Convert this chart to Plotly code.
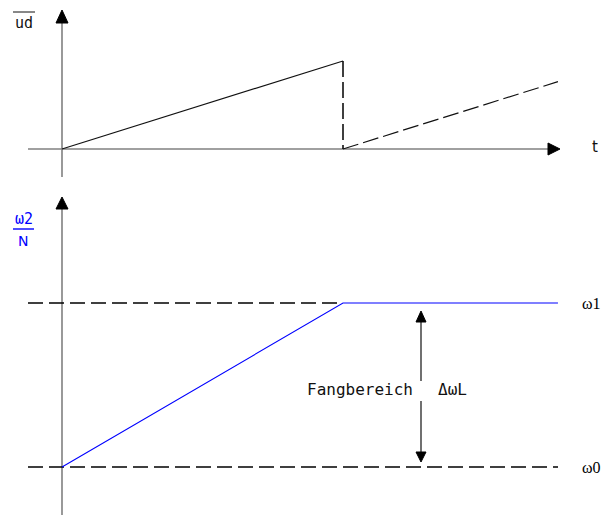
import plotly.graph_objects as go

# ---- data -------------------------------------------------------------
# upper panel: averaged detector voltage (sawtooth), t normalised to the first ramp
t_ramp = [0.0, 1.0]
ud_ramp = [0.0, 1.0]
t_reset = [1.0, 1.0]
ud_reset = [1.0, 0.0]
t_next = [1.0, 1.765]
ud_next = [0.0, 0.765]

# lower panel: VCO frequency omega2/N, normalised so that omega0 = 0, omega1 = 1
t_omega = [0.0, 1.0, 1.765]
omega = [0.0, 1.0, 1.0]
omega_levels = [0.0, 1.0]
omega_labels = ["ω0", "ω1"]

# ---- geometry helpers --------------------------------------------------
W, H = 604, 516
X0_PX, X_SCALE = 62, 281.0          # t = 0 at x pixel 62, one unit = 281 px
TOP_SPLIT = 190                      # pixel row separating the two panels
UD0_PX, UD_SCALE = 149, 88.0
OM0_PX, OM_SCALE = 467, 164.0

x_range = [-X0_PX / X_SCALE, (W - X0_PX) / X_SCALE]
y_top_range = [-(TOP_SPLIT - UD0_PX) / UD_SCALE, UD0_PX / UD_SCALE]
y_bot_range = [-(H - OM0_PX) / OM_SCALE, (OM0_PX - TOP_SPLIT) / OM_SCALE]
split = 1 - TOP_SPLIT / H

def tx(px):
    return (px - X0_PX) / X_SCALE

def ud(py):
    return (UD0_PX - py) / UD_SCALE

def om(py):
    return (OM0_PX - py) / OM_SCALE

AXIS_COL = "#808080"
INK = "#111111"
BLUE = "#0000ff"

fig = go.Figure()

def seg(x, y, yaxis, color=INK, width=1.2, dash=None):
    fig.add_trace(go.Scatter(x=x, y=y, xaxis="x", yaxis=yaxis, mode="lines",
                             line=dict(color=color, width=width, dash=dash),
                             hoverinfo="skip", showlegend=False))

def head(xs, ys, yaxis):
    fig.add_trace(go.Scatter(x=xs + [xs[0]], y=ys + [ys[0]], xaxis="x", yaxis=yaxis,
                             mode="lines", fill="toself", fillcolor="#000000",
                             line=dict(color="#000000", width=1),
                             hoverinfo="skip", showlegend=False))

# ---- upper panel -------------------------------------------------------
# coordinate axes with arrow heads
seg([tx(28), tx(549)], [0, 0], "y", color=AXIS_COL, width=1.6)
head([tx(548), tx(560), tx(548)], [ud(143), ud(149), ud(155)], "y")
seg([0, 0], [ud(177), ud(22)], "y", color=AXIS_COL, width=1.6)
head([tx(56), tx(62), tx(68)], [ud(23), ud(10), ud(23)], "y")

seg(t_ramp, ud_ramp, "y", color=INK, width=1.2)
seg(t_reset, ud_reset, "y", color="#000000", width=1.5, dash="16px,5px")
seg(t_next, ud_next, "y", color=INK, width=1.2, dash="16px,5px")

# ---- lower panel -------------------------------------------------------
seg([0, 0], [om(515), om(207)], "y2", color=AXIS_COL, width=1.6)
head([tx(56), tx(62), tx(68)], [om(209), om(197), om(209)], "y2")

# reference levels omega0 / omega1 (the omega1 line is hidden under the plateau)
seg([tx(28), tx(558)], [omega_levels[0]] * 2, "y2", color="#000000", width=1.3, dash="15px,6px")
seg([tx(28), tx(343)], [omega_levels[1]] * 2, "y2", color="#000000", width=1.3, dash="15px,6px")

seg(t_omega, omega, "y2", color=BLUE, width=1.1)

# capture range double arrow
xa = tx(421)
seg([xa, xa], [om(321), om(381)], "y2", color=INK, width=1.2)
seg([xa, xa], [om(401), om(453)], "y2", color=INK, width=1.2)
head([tx(416), tx(421), tx(426)], [om(322), om(311), om(322)], "y2")
head([tx(416), tx(421), tx(426)], [om(452), om(462), om(452)], "y2")

# ---- text --------------------------------------------------------------
def label(px, py, text, size=14, color=INK, family="DejaVu Sans Mono", xanchor="center"):
    fig.add_annotation(x=px / W, y=1 - py / H, xref="paper", yref="paper",
                       text=text, showarrow=False, xanchor=xanchor, yanchor="middle",
                       font=dict(family=family, size=size, color=color))

label(24, 23, "ud", size=15)
label(595, 147, "t", size=15, family="DejaVu Sans")
label(24, 219, "ω2", size=15, color=BLUE)
label(23, 241, "N", size=14, color=BLUE, family="DejaVu Sans")
label(415, 389, "Fangbereich", size=16, xanchor="right")
label(436, 389, "ΔωL", size=16, xanchor="left")
for lvl, name in zip(omega_levels, omega_labels):
    label(603, OM0_PX - lvl * OM_SCALE, name, size=16,
          family="Liberation Serif", color="#000000", xanchor="right")

# overline on "ud" and fraction bar of omega2 / N
fig.add_shape(type="line", xref="paper", yref="paper",
              x0=13 / W, x1=35 / W, y0=1 - 12 / H, y1=1 - 12 / H,
              line=dict(color=INK, width=1))
fig.add_shape(type="line", xref="paper", yref="paper",
              x0=13 / W, x1=34 / W, y0=1 - 229 / H, y1=1 - 229 / H,
              line=dict(color=BLUE, width=1.4))

fig.update_layout(
    width=W, height=H,
    margin=dict(l=0, r=0, t=0, b=0),
    paper_bgcolor="white", plot_bgcolor="white",
    xaxis=dict(range=x_range, visible=False, fixedrange=True),
    yaxis=dict(range=y_top_range, domain=[split, 1], visible=False, anchor="x"),
    yaxis2=dict(range=y_bot_range, domain=[0, split], visible=False, anchor="x"),
    showlegend=False,
)

fig.write_html("out.html")
